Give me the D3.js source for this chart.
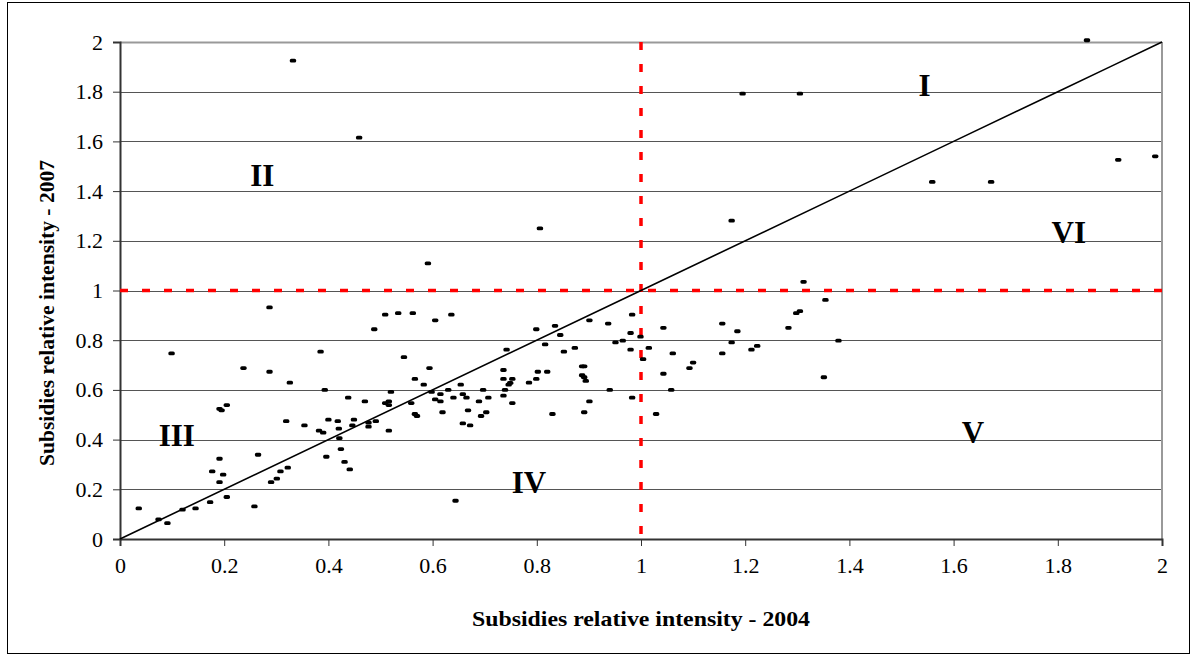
<!DOCTYPE html>
<html>
<head>
<meta charset="utf-8">
<script src="https://cdn.jsdelivr.net/npm/d3@7"></script>
<style>
  body { margin: 0; background: #fff; }
  svg { display: block; }
</style>
</head>
<body>
<div id="chart"></div>
<script>
// subsidies relative intensity, 2004 (x) vs 2007 (y)
let x2004 = [
  0.332, 0.459, 0.806, 0.591, 1.195, 1.305, 1.174, 1.312, 1.856, 1.559, 1.672, 1.916, 1.987,
  0.287, 0.488, 0.099, 0.385, 0.237, 0.287, 0.326, 0.393, 0.438, 0.470, 0.191, 0.195, 0.205,
  0.319, 0.354, 0.382, 0.390, 0.400, 0.418, 0.420, 0.449, 0.446, 0.477, 0.477, 0.491, 0.421,
  0.396, 0.424, 0.431, 0.441, 0.265, 0.191, 0.177, 0.198, 0.191, 0.308, 0.301, 0.290, 0.322,
  0.205, 0.173, 0.145, 0.120, 0.258, 0.036, 0.074, 0.091,
  0.509, 0.534, 0.562, 0.605, 0.636, 0.799, 0.835, 0.845, 0.816, 0.901, 0.937, 0.983, 0.980,
  0.951, 0.965, 0.980, 0.999, 0.742, 0.852, 0.873, 0.545, 0.594, 0.566, 0.583, 0.520, 0.598,
  0.615, 0.630, 0.654, 0.658, 0.605, 0.615, 0.640, 0.665, 0.697, 0.689, 0.707, 0.736, 0.736,
  0.753, 0.746, 0.749, 0.739, 0.736, 0.753, 0.785, 0.799, 0.802, 0.820, 0.887, 0.891, 0.887,
  0.891, 0.894, 0.940, 0.983, 0.901, 0.891, 0.830, 0.559, 0.509, 0.516, 0.516, 0.566, 0.570,
  0.619, 0.668, 0.693, 0.703, 0.658, 0.672, 0.516, 0.644,
  1.043, 1.015, 1.004, 1.061, 1.043, 1.058, 1.029, 1.093, 1.100, 1.156, 1.156, 1.174, 1.185,
  1.212, 1.223, 1.283, 1.298, 1.305, 1.354, 1.379, 1.351
];
let y2007 = [
  1.925, 1.615, 1.250, 1.109, 1.792, 1.792, 1.281, 1.035, 2.007, 1.437, 1.437, 1.526, 1.540,
  0.932, 0.844, 0.747, 0.754, 0.688, 0.673, 0.629, 0.600, 0.569, 0.554, 0.524, 0.518, 0.539,
  0.474, 0.457, 0.436, 0.428, 0.480, 0.474, 0.444, 0.480, 0.457, 0.468, 0.452, 0.474, 0.406,
  0.331, 0.362, 0.310, 0.280, 0.339, 0.323, 0.272, 0.259, 0.229, 0.272, 0.243, 0.229, 0.287,
  0.169, 0.148, 0.123, 0.118, 0.131, 0.123, 0.079, 0.064,
  0.903, 0.909, 0.909, 0.880, 0.903, 0.844, 0.858, 0.821, 0.783, 0.880, 0.867, 0.903, 0.829,
  0.791, 0.798, 0.762, 0.814, 0.762, 0.754, 0.769, 0.732, 0.688, 0.644, 0.621, 0.592, 0.592,
  0.583, 0.600, 0.621, 0.583, 0.562, 0.554, 0.569, 0.569, 0.600, 0.554, 0.569, 0.680, 0.644,
  0.644, 0.621, 0.628, 0.600, 0.577, 0.547, 0.629, 0.644, 0.673, 0.673, 0.695, 0.695, 0.659,
  0.651, 0.636, 0.600, 0.569, 0.554, 0.510, 0.503, 0.547, 0.547, 0.554, 0.539, 0.503, 0.495,
  0.510, 0.518, 0.495, 0.510, 0.465, 0.457, 0.436, 0.154,
  0.850, 0.769, 0.724, 0.747, 0.665, 0.600, 0.503, 0.688, 0.710, 0.867, 0.747, 0.791, 0.836,
  0.762, 0.777, 0.850, 0.909, 0.917, 0.962, 0.798, 0.651
];

// the 45 degree reference line
let diagX = [0, 1, 1.4, 1.6, 1.8, 1.9, 2];
let diagY = [0, 1, 1.4, 1.6, 1.8, 1.9, 2];

let ticks = [0, 0.2, 0.4, 0.6, 0.8, 1, 1.2, 1.4, 1.6, 1.8, 2];

// quadrant labels, anchored in data space
let regionText = ["I", "II", "III", "IV", "V", "VI"];
let regionX = [1.544, 0.273, 0.109, 0.785, 1.637, 1.821];
let regionY = [1.783, 1.421, 0.374, 0.185, 0.386, 1.191];

let width = 1192, height = 657;
let plot = { left: 120, right: 1162, top: 42, bottom: 539 };
let serif = "Liberation Serif, Times New Roman, serif";

let svg = d3.select("#chart").append("svg")
  .attr("width", width)
  .attr("height", height);

// outer frame
svg.append("rect")
  .attr("x", 7.5).attr("y", 2.5)
  .attr("width", 1182).attr("height", 651)
  .attr("fill", "none").attr("stroke", "#000").attr("stroke-width", 1);

let x = d3.scaleLinear().domain([0, 2]).range([plot.left, plot.right]);
let y = d3.scaleLinear().domain([0, 2]).range([plot.bottom, plot.top]);

// horizontal gridlines
svg.append("g").selectAll("line")
  .data(ticks.filter(t => t > 0))
  .enter().append("line")
  .attr("x1", x(0)).attr("x2", x(2))
  .attr("y1", d => Math.round(y(d)) + 0.5).attr("y2", d => Math.round(y(d)) + 0.5)
  .attr("stroke", d => d == 2 ? "#999" : "#555")
  .attr("stroke-width", d => d == 2 ? 2 : 1);

// right side of plot frame
svg.append("line")
  .attr("x1", x(2)).attr("x2", x(2))
  .attr("y1", y(2)).attr("y2", y(0))
  .attr("stroke", "#999").attr("stroke-width", 2);

// axes: d3 draws ticks, labels set in serif afterwards
let xAxis = svg.append("g")
  .attr("transform", `translate(0, ${y(0)})`)
  .call(d3.axisBottom(x).tickValues(ticks).tickSize(7).tickPadding(11)
    .tickFormat(d => d3.format("~g")(d)));
let yAxis = svg.append("g")
  .attr("transform", `translate(${x(0)}, 0)`)
  .call(d3.axisLeft(y).tickValues(ticks).tickSize(7).tickPadding(10)
    .tickFormat(d => d3.format("~g")(d)));

[xAxis, yAxis].forEach(function(a) {
  a.attr("font-size", null).attr("font-family", null);
  a.select(".domain").attr("stroke", "#333").attr("stroke-width", 2);
  a.selectAll(".tick line").attr("stroke", "#333");
  a.selectAll(".tick text")
    .attr("fill", "#000")
    .attr("font-family", "Liberation Serif")
    .attr("font-size", "22px");
});

// red dashed thresholds at 1
svg.append("line")
  .attr("x1", x(0)).attr("x2", x(2))
  .attr("y1", y(1)).attr("y2", y(1))
  .attr("stroke", "#ff0000").attr("stroke-width", 3.5)
  .attr("stroke-dasharray", "8,14");
svg.append("line")
  .attr("x1", x(1)).attr("x2", x(1))
  .attr("y1", y(2)).attr("y2", y(0))
  .attr("stroke", "#ff0000").attr("stroke-width", 3.5)
  .attr("stroke-dasharray", "8,14");

// diagonal
let line = d3.line().x(d => x(d[0])).y(d => y(d[1]));
svg.append("path")
  .datum(diagX.map((d, i) => [d, diagY[i]]))
  .attr("d", line)
  .attr("fill", "none")
  .attr("stroke", "#000")
  .attr("stroke-width", 1.6);

// points drawn as small dashes
svg.append("g").selectAll("rect")
  .data(x2004.map((d, i) => [d, y2007[i]]))
  .enter().append("rect")
  .attr("x", d => x(d[0]) - 3.2)
  .attr("y", d => y(d[1]) - 1.9)
  .attr("width", 6.4)
  .attr("height", 3.8)
  .attr("rx", 1.6)
  .attr("fill", "#000");

// region labels
svg.append("g").selectAll("text")
  .data(regionText)
  .enter().append("text")
  .attr("x", (d, i) => x(regionX[i]))
  .attr("y", (d, i) => y(regionY[i]))
  .attr("text-anchor", "middle")
  .attr("font-family", serif)
  .attr("font-weight", "bold")
  .attr("font-size", 31)
  .text(d => d);

// axis titles
svg.append("text")
  .attr("x", x(1))
  .attr("y", 626)
  .attr("text-anchor", "middle")
  .attr("textLength", 338)
  .attr("lengthAdjust", "spacingAndGlyphs")
  .attr("font-family", serif)
  .attr("font-weight", "bold")
  .attr("font-size", 22)
  .text("Subsidies relative intensity - 2004");

svg.append("text")
  .attr("transform", "translate(54, 313) rotate(-90)")
  .attr("text-anchor", "middle")
  .attr("textLength", 306)
  .attr("lengthAdjust", "spacingAndGlyphs")
  .attr("font-family", serif)
  .attr("font-weight", "bold")
  .attr("font-size", 21)
  .text("Subsidies relative intensity - 2007");
</script>
</body>
</html>
